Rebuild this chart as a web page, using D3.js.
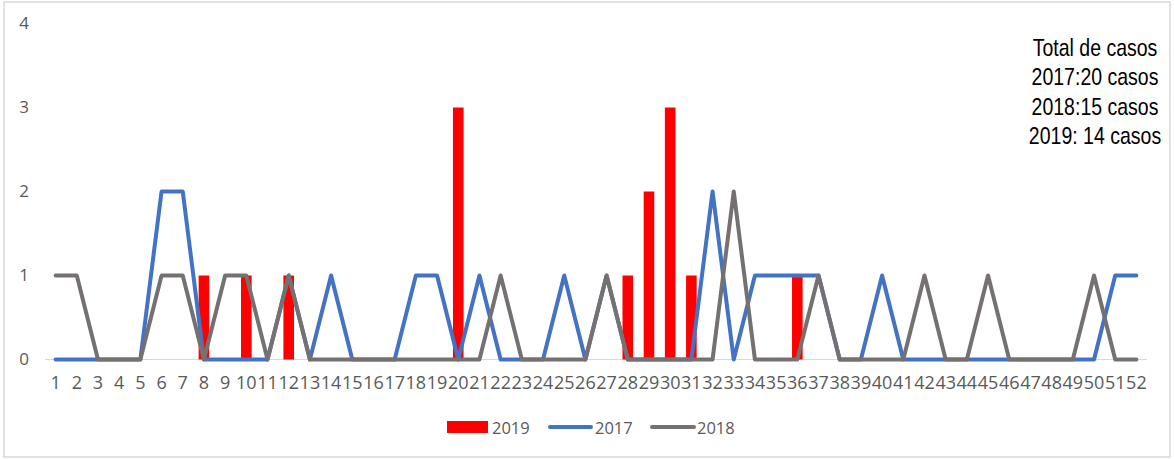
<!DOCTYPE html>
<html>
<head>
<meta charset="utf-8">
<script src="https://cdn.jsdelivr.net/npm/d3@7"></script>
<style>
  html, body { margin: 0; padding: 0; background: #fff; }
</style>
</head>
<body>
<div id="chart"></div>
<script>
// semanas epidemiologicas 1..52
const weeks = d3.range(1, 53);

// 2019: casos por semana (barras)
const cases2019 = [0,0,0,0,0,0,0,1,0,1, 0,1,0,0,0,0,0,0,0,3, 0,0,0,0,0,0,0,1,2,3, 1,0,0,0,0,1,0,0,0,0, 0,0,0,0,0,0,0,0,0,0, 0,0];
// 2017: linea azul
const cases2017 = [0,0,0,0,0,2,2,0,0,0, 0,1,0,1,0,0,0,1,1,0, 1,0,0,0,1,0,1,0,0,0, 0,2,0,1,1,1,1,0,0,1, 0,0,0,0,0,0,0,0,0,0, 1,1];
// 2018: linea gris
const cases2018 = [1,1,0,0,0,1,1,0,1,1, 0,1,0,0,0,0,0,0,0,0, 0,1,0,0,0,0,1,0,0,0, 0,0,2,0,0,0,1,0,0,0, 0,1,0,0,1,0,0,0,0,1, 0,0];

const yTicks = [0, 1, 2, 3, 4];
const noteLines = ['Total de casos', '2017:20 casos', '2018:15 casos', '2019: 14 casos'];

const width = 1174, height = 459;
const margin = { left: 45, right: 27, top: 23.5, bottom: 99.5 };

const svg = d3.select('#chart').append('svg')
    .attr('width', width)
    .attr('height', height);

// chart border
svg.append('rect')
    .attr('x', 4).attr('y', 2)
    .attr('width', 1166).attr('height', 455)
    .attr('fill', '#fff')
    .attr('stroke', '#d9d9d9')
    .attr('stroke-width', 1.5);

const x = d3.scaleBand()
    .domain(weeks)
    .range([margin.left, width - margin.right])
    .paddingInner(0.5)
    .paddingOuter(0.25);

const y = d3.scaleLinear()
    .domain([0, 4])
    .range([height - margin.bottom, margin.top]);

const cx = d => x(d) + x.bandwidth() / 2;

// baseline gridline
svg.append('line')
    .attr('x1', margin.left).attr('x2', width - margin.right)
    .attr('y1', y(0)).attr('y2', y(0))
    .attr('stroke', '#d9d9d9')
    .attr('stroke-width', 1);

// y axis labels
const yAxis = svg.append('g')
    .attr('transform', `translate(29,0)`)
    .call(d3.axisLeft(y).tickValues(yTicks).tickSize(0).tickPadding(0).tickFormat(d3.format('d')));
yAxis.select('.domain').remove();
yAxis.selectAll('text')
    .attr('fill', '#595959')
    .style('font', '17px "Open Sans", sans-serif');

// x axis labels
const xAxis = svg.append('g')
    .attr('transform', `translate(0,${y(0) + 17})`)
    .call(d3.axisBottom(x).tickSize(0).tickPadding(0));
xAxis.select('.domain').remove();
xAxis.selectAll('text')
    .attr('fill', '#595959')
    .style('font', '18px "Open Sans", sans-serif');

// 2019 bars
svg.append('g')
    .attr('fill', '#ff0000')
    .selectAll('rect')
    .data(weeks.filter((w, i) => cases2019[i] > 0))
    .join('rect')
    .attr('x', d => x(d))
    .attr('width', x.bandwidth())
    .attr('y', d => y(cases2019[d - 1]))
    .attr('height', d => y(0) - y(cases2019[d - 1]));

const line = d3.line()
    .x((d, i) => cx(weeks[i]))
    .y(d => y(d));

[[cases2017, '#4472c4'], [cases2018, '#767171']].forEach(([vals, color]) => {
    svg.append('path')
        .datum(vals)
        .attr('d', line)
        .attr('fill', 'none')
        .attr('stroke', color)
        .attr('stroke-width', 4)
        .attr('stroke-linejoin', 'round')
        .attr('stroke-linecap', 'round');
});

// note text (taller, narrow look)
svg.append('g')
    .selectAll('text')
    .data(noteLines)
    .join('text')
    .attr('transform', (d, i) => `translate(1095,${56 + i * 29.3}) scale(1,1.22)`)
    .attr('text-anchor', 'middle')
    .attr('fill', '#000')
    .style('font', '19.5px "Liberation Sans", Arial, sans-serif')
    .text(d => d);

// legend
const legend = svg.append('g').style('font', '16.5px "Open Sans", sans-serif');
legend.append('rect')
    .attr('x', 447).attr('y', 421)
    .attr('width', 41).attr('height', 12)
    .attr('fill', '#ff0000');
legend.append('text').attr('x', 492).attr('y', 433.5).attr('fill', '#595959').text('2019');
legend.append('line')
    .attr('x1', 550).attr('x2', 591).attr('y1', 427).attr('y2', 427)
    .attr('stroke', '#4472c4').attr('stroke-width', 4).attr('stroke-linecap', 'round');
legend.append('text').attr('x', 595).attr('y', 433.5).attr('fill', '#595959').text('2017');
legend.append('line')
    .attr('x1', 652).attr('x2', 694).attr('y1', 427).attr('y2', 427)
    .attr('stroke', '#767171').attr('stroke-width', 4).attr('stroke-linecap', 'round');
legend.append('text').attr('x', 697).attr('y', 433.5).attr('fill', '#595959').text('2018');
</script>
</body>
</html>
